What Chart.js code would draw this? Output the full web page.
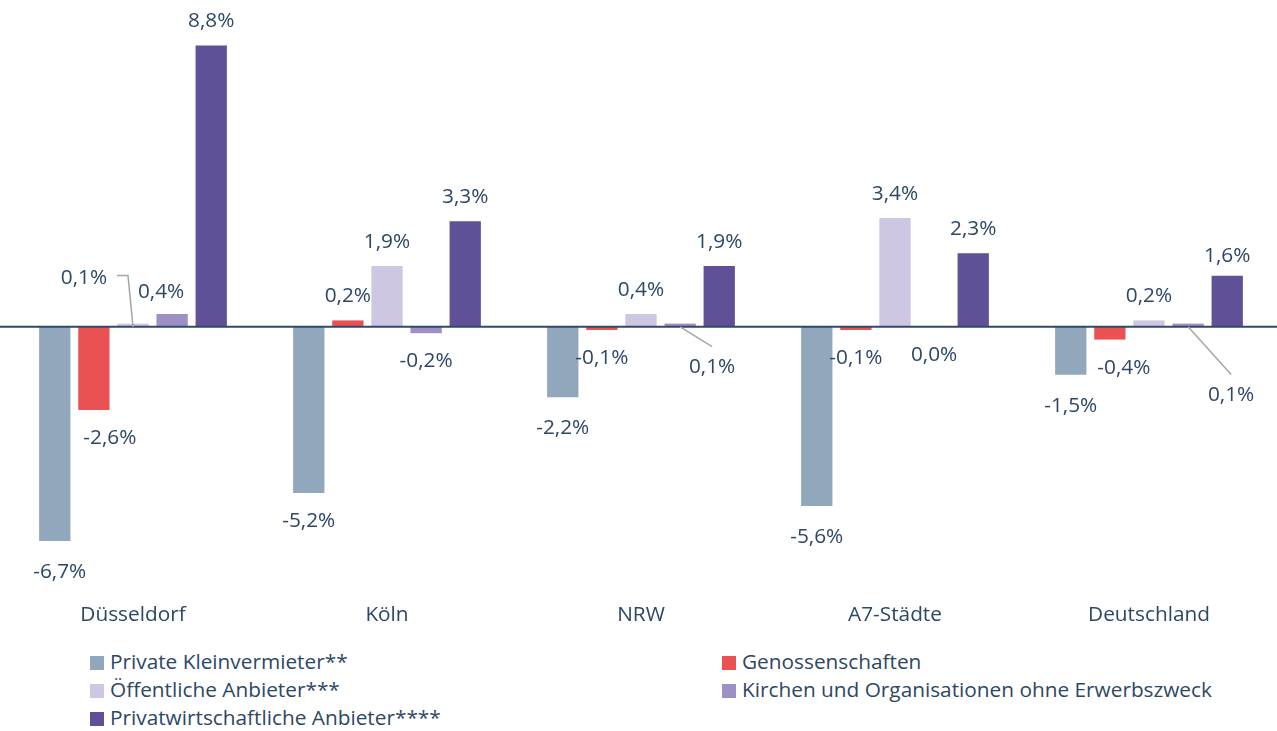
<!DOCTYPE html>
<html>
<head>
<meta charset="utf-8">
<script src="https://cdn.jsdelivr.net/npm/chart.js@4"></script>
<style>
  body { margin: 0; background: #fff; font-family: "Open Sans", sans-serif; }
  #wrap { position: relative; width: 1277px; height: 731px; }
  #chartBox { position: absolute; left: 0; top: 0; width: 1277px; height: 638px; }
  .legend { position: absolute; font-size: 20.8px; line-height: 24px; color: #2d4766; white-space: nowrap; }
  .legend span.sw { display: inline-block; width: 14px; height: 14px; margin-right: 6px; vertical-align: -1px; }
</style>
</head>
<body>
<div id="wrap">
  <div id="chartBox"><canvas id="c"></canvas></div>
  <div id="legend"></div>
</div>
<script>
const categories = ['Düsseldorf', 'Köln', 'NRW', 'A7-Städte', 'Deutschland'];
const seriesNames = [
  'Private Kleinvermieter**',
  'Genossenschaften',
  'Öffentliche Anbieter***',
  'Kirchen und Organisationen ohne Erwerbszweck',
  'Privatwirtschaftliche Anbieter****'
];
const privateKlein = [-6.7, -5.2, -2.2, -5.6, -1.5];
const genossen = [-2.6, 0.2, -0.1, -0.1, -0.4];
const oeffentlich = [0.1, 1.9, 0.4, 3.4, 0.2];
const kirchen = [0.4, -0.2, 0.1, 0.0, 0.1];
const privatwirt = [8.8, 3.3, 1.9, 2.3, 1.6];

const COLORS = ['#91a7bb', '#ea5153', '#cdc7e3', '#9c90c5', '#5f5097'];
const TEXT = '#2d4766';
const FONT = '"Open Sans"';

// label tweaks [series][category] = [dx, dy, leader]
const labelShift = [
  [[5, 3], [0, 0], [0, 3], [0, 3], [0, 3]],
  [[16, 0], [0, 0], [0, 0], [0, 0], [14, 0]],
  [[-49, -22, 'up'], [0, 0], [0, 0], [0, 0], [0, 0]],
  [[-11, 2], [0, 0], [32, 67, 'down'], [0, 0], [43, 95, 'down']],
  [[0, 0], [0, 0], [0, 0], [0, 0], [0, 4]]
];

function fmt(v) {
  return v.toFixed(1).replace('.', ',') + '%';
}

const valueLabels = {
  id: 'valueLabels',
  afterDatasetsDraw(chart) {
    const ctx = chart.ctx;
    const y0 = chart.scales.y.getPixelForValue(0);
    ctx.save();
    // zero line
    ctx.strokeStyle = '#2e4a6b';
    ctx.lineWidth = 2;
    ctx.beginPath();
    ctx.moveTo(0, y0);
    ctx.lineTo(chart.width, y0);
    ctx.stroke();

    ctx.font = '20.8px ' + FONT;
    ctx.fillStyle = TEXT;
    ctx.textAlign = 'center';
    ctx.textBaseline = 'middle';
    chart.data.datasets.forEach((ds, si) => {
      const meta = chart.getDatasetMeta(si);
      meta.data.forEach((bar, ci) => {
        const v = ds.data[ci];
        const sh = labelShift[si][ci];
        const lx = bar.x + sh[0];
        const ly = (v > 0 ? bar.y - 24 : Math.max(bar.y, bar.base) + 28) + sh[1];
        ctx.fillText(fmt(v), lx, ly);
        if (sh[2]) {
          ctx.strokeStyle = '#a6a6a6';
          ctx.lineWidth = 1.5;
          ctx.beginPath();
          if (sh[2] === 'up') {
            ctx.moveTo(lx + 33, ly - 2);
            ctx.lineTo(lx + 44, ly - 2);
            ctx.lineTo(bar.x, y0);
          } else {
            ctx.moveTo(bar.x, y0);
            ctx.lineTo(lx, ly - 20);
          }
          ctx.stroke();
        }
      });
    });
    ctx.restore();
  }
};

const allSeries = [privateKlein, genossen, oeffentlich, kirchen, privatwirt];

new Chart(document.getElementById('c'), {
  type: 'bar',
  data: {
    labels: categories,
    datasets: allSeries.map((d, i) => ({
      label: seriesNames[i],
      data: d,
      backgroundColor: COLORS[i],
      categoryPercentage: 0.77,
      barPercentage: 0.8
    }))
  },
  options: {
    responsive: true,
    maintainAspectRatio: false,
    animation: false,
    layout: { padding: { left: 6, right: 1, top: 7, bottom: 4 } },
    scales: {
      x: {
        grid: { display: false },
        border: { display: false },
        ticks: { color: TEXT, font: { family: FONT, size: 20.8 }, padding: 6 }
      },
      y: { display: false, min: -8.2, max: 10 }
    },
    plugins: {
      legend: { display: false },
      tooltip: { enabled: false }
    }
  },
  plugins: [valueLabels]
});

// legend in two columns
const legendPos = [[90, 649], [722, 649], [90, 677], [722, 677], [90, 705]];
const lg = document.getElementById('legend');
seriesNames.forEach((name, si) => {
  const d = document.createElement('div');
  d.className = 'legend';
  d.style.left = legendPos[si][0] + 'px';
  d.style.top = legendPos[si][1] + 'px';
  d.innerHTML = '<span class="sw" style="background:' + COLORS[si] + '"></span>' + name;
  lg.appendChild(d);
});
</script>
</body>
</html>
